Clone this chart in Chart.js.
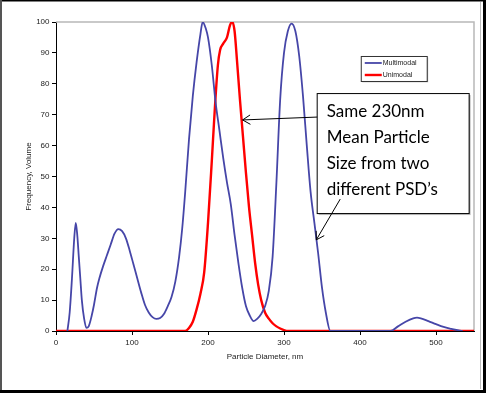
<!DOCTYPE html>
<html>
<head>
<meta charset="utf-8">
<script src="https://cdn.jsdelivr.net/npm/chart.js@4.4.1/dist/chart.umd.min.js"></script>
<style>
html,body{margin:0;padding:0;background:#fff;}
#wrap{position:relative;width:486px;height:393px;}
canvas{display:block;}
</style>
</head>
<body>
<div id="wrap"><canvas id="c" width="486" height="393"></canvas></div>
<script>
// ---- data ----
const multimodalX = [15,18,21,24,26,28,30,32,34,37,40,43,47,50,54,57,62,67,72,77,82,87,92,97,102,107,112,117,122,127,132,137,142,147,152,157,162,166,170,175,180,185,190,193,197,200,205,210,215,220,225,230,235,240,245,250,255,260,265,270,275,280,285,290,295,300,305,310,315,320,325,330,335,340,345,350,355,361,440,450,460,470,475,480,490,500,510,520,530,535];
const multimodalY = [0,6,17,30,35,31,24,17,10,4,1,1.5,5,8.5,14,17,21,24.5,28,31.5,33,32.3,30,26,21.5,17,12.5,8.5,6,4.5,3.9,4.2,5.5,8,11,16,24,33,45,62,76,87,96,100,98,95,86,74,65,56,48,41,31,22,14,8,5,3.2,4,5.5,8,13,24,48,75,90,97,99.5,97,89,76,60,45,35,25,14,6,0,0,1.5,3,4.1,4.3,4.1,3.2,2.2,1.3,0.7,0.2,0];
const unimodalX = [0,170,175,180,185,190,195,200,205,209,213,216,220,225,229,232,235,238,242,246,250,254,258,262,266,270,275,280,285,290,295,300,305,550];
const unimodalY = [0,0,1,3,7,12,19,35,55,72,86,91,93,95,99,100,97,88,75,63,51,40,31,22,15,10,6,4,2.5,1.5,0.8,0.3,0,0];
const seriesNames = ['Multimodal','Unimodal'];
const xTickValues = [0,100,200,300,400,500];
const yTickValues = [0,10,20,30,40,50,60,70,80,90,100];
const xTitle = 'Particle Diameter, nm';
const yTitle = 'Frequency, Volume';
const noteLines = ['Same 230nm','Mean Particle','Size from two','different PSD\u2019s'];

const toPts = (xs, ys) => xs.map((x, i) => ({x: x, y: ys[i]}));

// frame + plot box (behind)
const framePlugin = {
  id: 'frame',
  beforeDraw(chart) {
    const ctx = chart.ctx, W = chart.width, H = chart.height;
    ctx.save();
    ctx.fillStyle = '#fff';
    ctx.fillRect(0, 0, W, H);
    ctx.fillStyle = '#000';
    ctx.fillRect(0, 0, W, 1.5);
    ctx.fillStyle = '#555';
    ctx.fillRect(0, 0, 2, H);
    ctx.fillStyle = '#000';
    ctx.fillRect(W - 3, 0, 3, H);
    ctx.fillRect(0, H - 3, W, 3);
    ctx.fillStyle = '#bdbdbd';
    ctx.fillRect(W - 6, 2, 1, H - 6);
    ctx.restore();
  },
  beforeDatasetsDraw(chart) {
    const {ctx, chartArea: a} = chart;
    ctx.save();
    ctx.strokeStyle = '#b8b8b8';
    ctx.lineWidth = 1.5;
    ctx.beginPath();
    ctx.moveTo(a.left, a.top);
    ctx.lineTo(a.right, a.top);
    ctx.lineTo(a.right, a.bottom);
    ctx.stroke();
    ctx.restore();
  }
};

function arrow(ctx, x1, y1, x2, y2) {
  ctx.beginPath();
  ctx.moveTo(x1, y1);
  ctx.lineTo(x2, y2);
  const ang = Math.atan2(y2 - y1, x2 - x1);
  const L = 9, s = 0.55;
  ctx.moveTo(x2 - L * Math.cos(ang - s), y2 - L * Math.sin(ang - s));
  ctx.lineTo(x2, y2);
  ctx.lineTo(x2 - L * Math.cos(ang + s), y2 - L * Math.sin(ang + s));
  ctx.stroke();
}

const overlayPlugin = {
  id: 'overlay',
  afterDraw(chart) {
    const ctx = chart.ctx;
    const xs = chart.scales.x, ys = chart.scales.y;
    ctx.save();
    // legend
    const lx = xs.getPixelForValue(401), ly = ys.getPixelForValue(89);
    const lw = 66, lh = 25;
    ctx.fillStyle = 'rgba(0,0,0,0.18)';
    ctx.fillRect(lx + 1.5, ly + 1.5, lw, lh);
    ctx.fillStyle = '#fff';
    ctx.fillRect(lx, ly, lw, lh);
    ctx.strokeStyle = '#333';
    ctx.lineWidth = 1;
    ctx.strokeRect(lx + 0.5, ly + 0.5, lw, lh);
    chart.data.datasets.forEach((ds, i) => {
      const yy = ly + 7 + i * 12;
      ctx.strokeStyle = ds.borderColor;
      ctx.lineWidth = ds.borderWidth;
      ctx.beginPath();
      ctx.moveTo(lx + 4, yy);
      ctx.lineTo(lx + 21, yy);
      ctx.stroke();
      ctx.fillStyle = '#222';
      ctx.font = '7px "Liberation Sans", Arial, sans-serif';
      ctx.textBaseline = 'middle';
      ctx.textAlign = 'left';
      ctx.fillText(ds.label, lx + 22, yy + 0.5);
    });
    // note box
    const bx = xs.getPixelForValue(343), by = ys.getPixelForValue(77);
    const bw = 152, bh = 120;
    ctx.fillStyle = 'rgba(0,0,0,0.25)';
    ctx.fillRect(bx + 2, by + 2, bw, bh);
    ctx.fillStyle = '#fff';
    ctx.fillRect(bx, by, bw, bh);
    ctx.strokeStyle = '#000';
    ctx.lineWidth = 1;
    ctx.strokeRect(bx + 0.5, by + 0.5, bw, bh);
    ctx.fillStyle = '#000';
    ctx.font = '17px Lato, "Open Sans", sans-serif';
    ctx.textAlign = 'left';
    ctx.textBaseline = 'alphabetic';
    noteLines.forEach((t, i) => ctx.fillText(t, bx + 10, by + 24 + i * 26));
    // arrows
    ctx.strokeStyle = '#000';
    ctx.lineWidth = 1;
    arrow(ctx, bx + 0.5, by + 24, xs.getPixelForValue(245.5), ys.getPixelForValue(68.3));
    arrow(ctx, xs.getPixelForValue(374), by + 106, xs.getPixelForValue(342.5), ys.getPixelForValue(29.5));
    ctx.restore();
  }
};

const tickFont = {family: '"Liberation Sans", Arial, sans-serif', size: 8};

new Chart(document.getElementById('c'), {
  type: 'line',
  data: {
    datasets: [
      {label: seriesNames[0], data: toPts(multimodalX, multimodalY), borderColor: '#4646a8', borderWidth: 1.8, pointRadius: 0, cubicInterpolationMode: 'monotone', fill: false},
      {label: seriesNames[1], data: toPts(unimodalX, unimodalY), borderColor: '#ff0000', borderWidth: 2.4, pointRadius: 0, cubicInterpolationMode: 'monotone', fill: false}
    ]
  },
  options: {
    responsive: false,
    animation: false,
    devicePixelRatio: 1,
    layout: {padding: {left: 0, top: 22, right: 12, bottom: 0}},
    plugins: {legend: {display: false}, tooltip: {enabled: false}},
    scales: {
      x: {
        type: 'linear', min: 0, max: 550,
        afterBuildTicks: s => { s.ticks = xTickValues.map(v => ({value: v})); },
        afterFit: s => { s.height = 62; },
        grid: {display: true, drawOnChartArea: false, drawTicks: true, tickLength: 4, color: '#000'},
        border: {display: true, color: '#000', width: 1},
        ticks: {font: tickFont, color: '#222', padding: 3, maxRotation: 0, autoSkip: false},
        title: {display: true, text: xTitle, font: tickFont, color: '#222', padding: {top: 0, bottom: 31}}
      },
      y: {
        type: 'linear', min: 0, max: 100,
        afterBuildTicks: s => { s.ticks = yTickValues.map(v => ({value: v})); },
        afterFit: s => { s.width = 56; },
        grid: {display: true, drawOnChartArea: false, drawTicks: true, tickLength: 4, color: '#000'},
        border: {display: true, color: '#000', width: 1},
        ticks: {font: tickFont, color: '#222', padding: 2.5, autoSkip: false},
        title: {display: true, text: yTitle, font: tickFont, color: '#222', padding: {top: 24, bottom: 0}}
      }
    }
  },
  plugins: [framePlugin, overlayPlugin]
});
</script>
</body>
</html>
